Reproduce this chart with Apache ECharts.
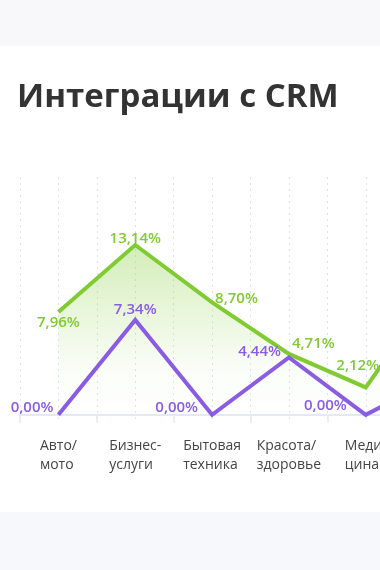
<!DOCTYPE html>
<html>
<head>
<meta charset="utf-8">
<script src="https://cdn.jsdelivr.net/npm/echarts@6/dist/echarts.min.js"></script>
<style>
  html, body { margin: 0; padding: 0; width: 380px; height: 570px; overflow: hidden; background: #ffffff; }
  #bandTop { position: absolute; left: 0; top: 0; width: 380px; height: 46px; background: #f8f8fb; }
  #bandBottom { position: absolute; left: 0; top: 512px; width: 380px; height: 58px; background: #f7f8fc; }
  #chart { position: absolute; left: 0; top: 0; width: 500px; height: 570px; }
</style>
</head>
<body>
<div id="bandTop"></div>
<div id="bandBottom"></div>
<div id="chart"></div>
<script>
// ---- data ----
const titleText = 'Интеграции с CRM';
const categories = ['Авто/\nмото', 'Бизнес-\nуслуги', 'Бытовая\nтехника', 'Красота/\nздоровье', 'Меди-\nцина', ''];
const greenValues = [7.96, 13.14, 8.70, 4.71, 2.12, 10.5];
const purpleValues = [0.00, 7.34, 0.00, 4.44, 0.00, 3.1];

// ---- label placement (layout only) ----
const greenLabelLayout = [
  { position: 'bottom', distance: 3, offset: [0, 0] },
  { position: 'top', distance: -1, offset: [0, 0] },
  { position: 'right', distance: 3, offset: [0, -4] },
  { position: 'right', distance: 3, offset: [0, -10] },
  { position: 'top', distance: 14, offset: [-8, 0] },
  { position: 'top', distance: 4, offset: [0, 0] }
];
const purpleLabelLayout = [
  { position: 'left', distance: 5, offset: [0, -7] },
  { position: 'top', distance: 3, offset: [0, 0] },
  { position: 'left', distance: 14, offset: [0, -7] },
  { position: 'left', distance: 8, offset: [0, -6] },
  { position: 'left', distance: 19, offset: [0, -9] },
  { position: 'top', distance: 4, offset: [0, 0] }
];

const GREEN = '#7fcb31';
const PURPLE = '#8a5ce4';
const fmt = v => v.toFixed(2).replace('.', ',') + '%';

function buildData(values, layouts, color) {
  return values.map((v, i) => ({
    value: v,
    label: {
      show: true,
      position: layouts[i].position,
      distance: layouts[i].distance,
      offset: layouts[i].offset,
      color: color,
      fontFamily: 'Open Sans',
      fontWeight: 600,
      fontSize: 15,
      formatter: p => fmt(p.value)
    }
  }));
}

const chart = echarts.init(document.getElementById('chart'), null, { renderer: 'canvas' });
chart.setOption({
  animation: false,
  backgroundColor: 'transparent',
  title: {
    text: titleText,
    left: 12,
    top: 76,
    textStyle: { fontFamily: 'Open Sans', fontWeight: 'bold', fontSize: 33, color: '#333333' }
  },
  grid: { left: 20, right: 19, top: 177, bottom: 150, containLabel: false },
  xAxis: [
    {
      type: 'category',
      data: categories,
      boundaryGap: true,
      axisLine: { show: true, lineStyle: { color: '#e3eaf2', width: 2 } },
      axisTick: { show: true, length: 8, interval: 0, lineStyle: { color: '#e3eaf2', width: 1.5 } },
      splitLine: { show: false },
      axisLabel: {
        interval: 0,
        margin: 17,
        color: '#444444',
        fontFamily: 'Open Sans',
        fontSize: 14,
        lineHeight: 19,
        formatter: v => v.split('\n').map(s => '{a|' + s + '}').join('\n'),
        rich: { a: { align: 'left', fontFamily: 'Open Sans', fontSize: 14, lineHeight: 19, color: '#444444' } }
      }
    },
    {
      type: 'value',
      min: 0,
      max: categories.length,
      interval: 0.5,
      position: 'bottom',
      show: true,
      axisLine: { show: false },
      axisTick: { show: false },
      axisLabel: { show: false },
      splitLine: { show: true, lineStyle: { color: '#dfe4ea', type: [2, 4], width: 1 } }
    }
  ],
  yAxis: {
    type: 'value',
    min: -0.4,
    max: 18.4,
    show: false,
    splitLine: { show: false }
  },
  series: [
    {
      type: 'line',
      xAxisIndex: 0,
      data: buildData(greenValues, greenLabelLayout, GREEN),
      symbol: 'circle',
      symbolSize: 0.01,
      showSymbol: true,
      lineStyle: { color: GREEN, width: 4, join: 'miter' },
      itemStyle: { color: GREEN },
      areaStyle: {
        origin: 'start',
        color: new echarts.graphic.LinearGradient(0, 0, 0, 1, [
          { offset: 0, color: 'rgba(130, 205, 55, 0.5)' },
          { offset: 0.7, color: 'rgba(130, 205, 55, 0.06)' },
          { offset: 1, color: 'rgba(130, 205, 55, 0)' }
        ])
      },
      z: 3
    },
    {
      type: 'line',
      xAxisIndex: 0,
      data: buildData(purpleValues, purpleLabelLayout, PURPLE),
      symbol: 'circle',
      symbolSize: 0.01,
      showSymbol: true,
      lineStyle: { color: PURPLE, width: 4, join: 'miter' },
      itemStyle: { color: PURPLE },
      z: 4
    }
  ]
});
</script>
</body>
</html>
